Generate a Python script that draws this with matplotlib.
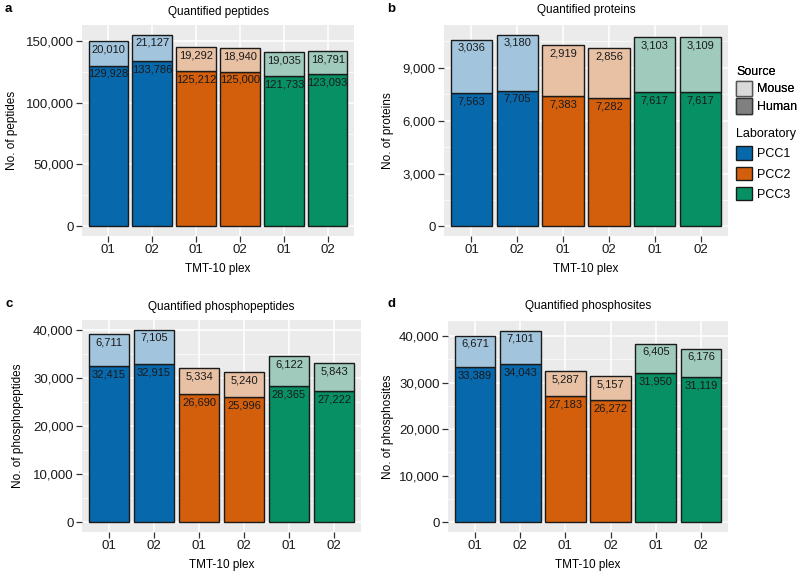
import matplotlib
matplotlib.use('Agg')
import matplotlib.pyplot as plt
from matplotlib.patches import Patch
from matplotlib.ticker import FuncFormatter, MultipleLocator
import numpy as np

plt.rcParams['font.family'] = ['Liberation Sans', 'DejaVu Sans']

plex = ['01', '02', '01', '02', '01', '02']
lab = ['PCC1', 'PCC1', 'PCC2', 'PCC2', 'PCC3', 'PCC3']

peptides_human = [129928, 133786, 125212, 125000, 121733, 123093]
peptides_mouse = [20010, 21127, 19292, 18940, 19035, 18791]
proteins_human = [7563, 7705, 7383, 7282, 7617, 7617]
proteins_mouse = [3036, 3180, 2919, 2856, 3103, 3109]
phpep_human = [32415, 32915, 26690, 25996, 28365, 27222]
phpep_mouse = [6711, 7105, 5334, 5240, 6122, 5843]
phsite_human = [33389, 34043, 27183, 26272, 31950, 31119]
phsite_mouse = [6671, 7101, 5287, 5157, 6405, 6176]

dark = {'PCC1': '#0868ac', 'PCC2': '#d35f0d', 'PCC3': '#079064'}
light = {'PCC1': '#a2c5dd', 'PCC2': '#e8c1a5', 'PCC3': '#a0cbbc'}

W, H = 800, 577
fig = plt.figure(figsize=(8, 5.77), dpi=100)


def box(l, r, t, b):
    return [l / W, 1 - b / H, (r - l) / W, (b - t) / H]


panels = [
    dict(rect=box(82, 354, 25, 236), human=peptides_human, mouse=peptides_mouse,
         title='Quantified peptides', ylabel='No. of peptides', step=50000,
         letter='a', lx=5, ly=9, ylx=12, ty=12),
    dict(rect=box(444, 728, 25, 236), human=proteins_human, mouse=proteins_mouse,
         title='Quantified proteins', ylabel='No. of proteins', step=3000,
         letter='b', lx=387, ly=9, ylx=388, ty=10),
    dict(rect=box(82, 361, 320, 532), human=phpep_human, mouse=phpep_mouse,
         title='Quantified phosphopeptides', ylabel='No. of phosphopeptides', step=10000,
         letter='c', lx=5, ly=304, ylx=18, ty=307),
    dict(rect=box(448, 728, 321, 532), human=phsite_human, mouse=phsite_mouse,
         title='Quantified phosphosites', ylabel='No. of phosphosites', step=10000,
         letter='d', lx=388, ly=304, ylx=388, ty=306),
]

x = np.arange(1, len(plex) + 1)
fmt = FuncFormatter(lambda v, p: f'{int(v):,}')

for p in panels:
    ax = fig.add_axes(p['rect'])
    ax.set_facecolor('#ebebeb')
    human = np.array(p['human'])
    mouse = np.array(p['mouse'])
    total = human + mouse
    top = total.max() * 1.05
    ax.set_ylim(-total.max() * 0.05, top)
    ax.set_xlim(0.4, 6.6)
    ax.yaxis.set_major_locator(MultipleLocator(p['step']))
    ax.yaxis.set_minor_locator(MultipleLocator(p['step'] / 2))
    ax.yaxis.set_major_formatter(fmt)
    ax.set_xticks(x)
    ax.set_xticklabels(plex)
    ax.grid(which='major', color='white', lw=1.1)
    ax.grid(which='minor', axis='y', color='white', lw=0.5)
    ax.set_axisbelow(True)
    for s in ax.spines.values():
        s.set_visible(False)
    ax.tick_params(which='major', length=4, width=0.9, color='#333333',
                   labelsize=9.5, labelcolor='#1a1a1a', pad=2)
    ax.tick_params(which='minor', length=0)

    ax.bar(x, human, width=0.9, color=[dark[l] for l in lab],
           edgecolor='#1a1a1a', lw=1.0)
    ax.bar(x, mouse, bottom=human, width=0.9, color=[light[l] for l in lab],
           edgecolor='#1a1a1a', lw=1.0)
    for xi, h, m in zip(x, human, mouse):
        ax.annotate(f'{m:,}', (xi, h + m), xytext=(0, -6), textcoords='offset points',
                    ha='center', va='center', fontsize=8, color='#1a1a1a')
        ax.annotate(f'{h:,}', (xi, h), xytext=(0, -6), textcoords='offset points',
                    ha='center', va='center', fontsize=8, color='#1a1a1a')

    ax.set_xlabel('TMT-10 plex', fontsize=8.5, labelpad=5)
    l, b, w, hh = p['rect']
    fig.text((l + w / 2), 1 - p['ty'] / H, p['title'], ha='center', va='center',
             fontsize=8.5)
    fig.text(p['ylx'] / W, b + hh / 2, p['ylabel'], rotation=90, ha='center',
             va='center', fontsize=8.5)
    fig.text(p['lx'] / W, 1 - p['ly'] / H, p['letter'], ha='left', va='center',
             fontsize=9.5, fontweight='bold')

src = fig.legend(handles=[Patch(facecolor='#d9d9d9', edgecolor='#555555', label='Mouse'),
                          Patch(facecolor='#808080', edgecolor='#333333', label='Human')],
                 title='Source', loc='upper left', bbox_to_anchor=(736 / W, 1 - 66 / H),
                 frameon=False, fontsize=9, title_fontsize=9, alignment='left',
                 handlelength=1.3, handleheight=1.5, labelspacing=0.2,
                 handletextpad=0.4, borderpad=0, borderaxespad=0)
fig.add_artist(src)
fig.legend(handles=[Patch(facecolor=dark[k], edgecolor='#1a1a1a', label=k)
                    for k in ['PCC1', 'PCC2', 'PCC3']],
           title='Laboratory', loc='upper left', bbox_to_anchor=(736 / W, 1 - 128 / H),
           frameon=False, fontsize=9, title_fontsize=9, alignment='left',
           handlelength=1.3, handleheight=1.3, labelspacing=0.5,
           handletextpad=0.4, borderpad=0, borderaxespad=0)

fig.savefig('out.png', dpi=100)
